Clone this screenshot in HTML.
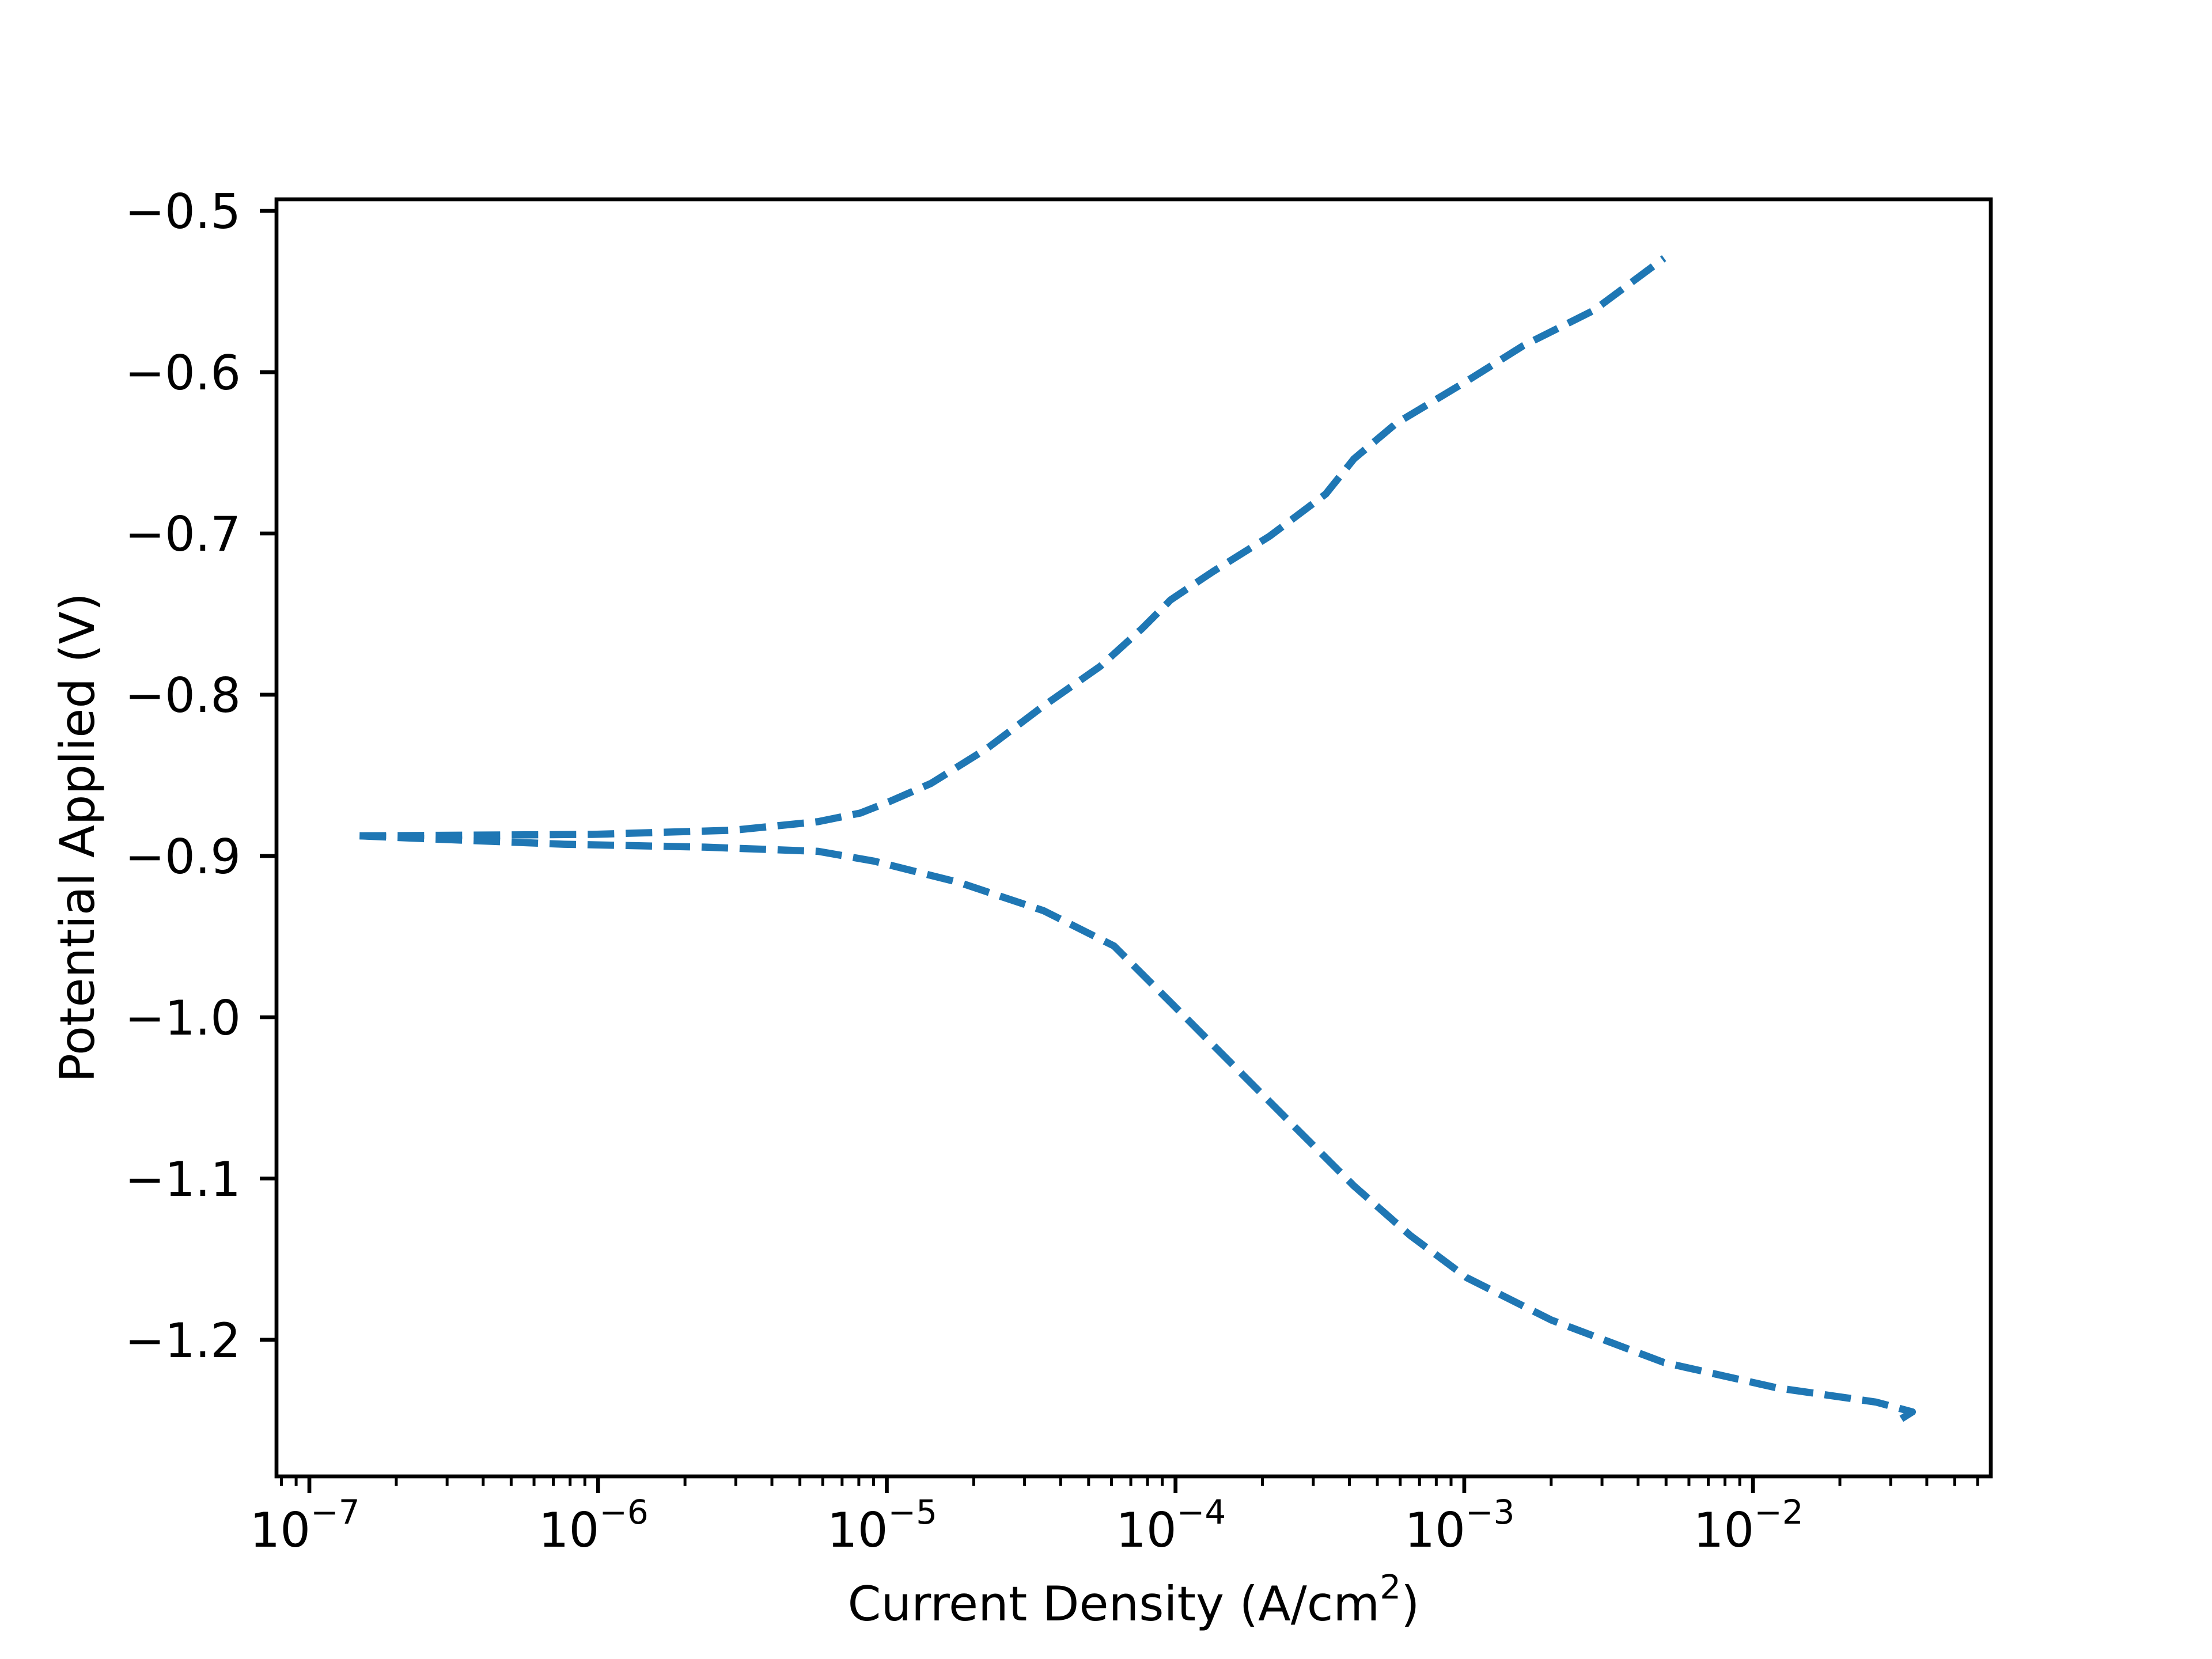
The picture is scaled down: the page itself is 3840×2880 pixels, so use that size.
<!DOCTYPE html>
<html><head><meta charset="utf-8"><style>
html,body{margin:0;padding:0;background:#fff;}
svg{display:block;}
text{font-family:"DejaVu Sans","Liberation Sans",sans-serif;fill:#000;}
</style></head><body>
<svg id="chart" width="3840" height="2880" viewBox="0 0 3840 2880" xmlns="http://www.w3.org/2000/svg">
<rect x="0" y="0" width="3840" height="2880" fill="#fff"/>
<g id="ticks"></g>
<g id="series"></g>
<rect x="480" y="346" width="2976" height="2217" fill="none" stroke="#000" stroke-width="6.7"/>
<text x="1968" y="2813" font-size="83" text-anchor="middle">Current Density (A/cm<tspan font-size="58" dy="-38">2</tspan><tspan dy="38">)</tspan></text>
<text transform="translate(163,1454) rotate(-90)" font-size="83" text-anchor="middle">Potential Applied (V)</text>
</svg>
<script>
// data (log10 current density, potential V)
const anodicLogI = [-6.826,-6.020,-5.531,-5.238,-5.092,-4.994,-4.847,-4.652,-4.457,-4.261,-4.115,-4.017,-3.871,-3.675,-3.480,-3.382,-3.236,-2.991,-2.796,-2.552,-2.308];
const anodicV    = [-0.8875,-0.8866,-0.884,-0.8787,-0.8734,-0.8665,-0.855,-0.8332,-0.8069,-0.7824,-0.7588,-0.7412,-0.7237,-0.7018,-0.6756,-0.6537,-0.6318,-0.6055,-0.5836,-0.5617,-0.5293];
const cathodicLogI = [-6.826,-6.606,-6.118,-5.629,-5.238,-5.043,-4.750,-4.457,-4.213,-4.017,-3.822,-3.578,-3.382,-3.187,-2.991,-2.698,-2.308,-1.917,-1.575,-1.448,-1.487];
const cathodicV    = [-0.8875,-0.8892,-0.8927,-0.8945,-0.8971,-0.9032,-0.9164,-0.9339,-0.9558,-0.9908,-1.0258,-1.0696,-1.1046,-1.1353,-1.1615,-1.1878,-1.2141,-1.2298,-1.2386,-1.2447,-1.2491];
const xTickExps = [-7,-6,-5,-4,-3,-2];
const yTickValues = [-0.5,-0.6,-0.7,-0.8,-0.9,-1.0,-1.1,-1.2];
const yTickLabels = ["\u22120.5","\u22120.6","\u22120.7","\u22120.8","\u22120.9","\u22121.0","\u22121.1","\u22121.2"];

const NS="http://www.w3.org/2000/svg";
const L=480,R=3456,T=346,B=2563;
const xMin=-7.1138,xMax=-1.1763,yMin=-1.2847,yMax=-0.4928;
function sx(lg){return L+(lg-xMin)/(xMax-xMin)*(R-L);}
function sy(v){return B-(v-yMin)/(yMax-yMin)*(B-T);}
function mk(tag,attrs,parent){const e=document.createElementNS(NS,tag);for(const k in attrs)e.setAttribute(k,attrs[k]);parent.appendChild(e);return e;}
const tg=document.getElementById('ticks');
// x major ticks
xTickExps.forEach(function(ex){
  const x=sx(ex);
  const t=mk('line',{x1:x,x2:x,y1:B,y2:B+29,stroke:'#000','stroke-width':6.7},tg);
  
  
  const tx=mk('text',{x:x-8,y:2685,'font-size':83,'text-anchor':'middle'},tg);
  
  
  tx.innerHTML='10<tspan font-size="58" dy="-40">\u2212'+(-ex)+'</tspan>';
});
// x minor ticks
for(let d=-8;d<=-1;d++){for(let m=2;m<=9;m++){const lg=d+Math.log10(m);if(lg<xMin||lg>xMax)continue;const x=sx(lg);
  const t=mk('line',{x1:x,x2:x,y1:B,y2:B+16.7,stroke:'#000','stroke-width':5},tg);
  
  
}}
// y ticks
yTickValues.forEach(function(v,i){
  const y=sy(v);
  const t=mk('line',{x1:L-29,x2:L,y1:y,y2:y,stroke:'#000','stroke-width':6.7},tg);
  
  
  const tx=mk('text',{x:418,y:y+30,'font-size':83,'text-anchor':'end'},tg);
  
  
  tx.textContent=yTickLabels[i];
});
// series
const sg=document.getElementById('series');
function path(xs,ys){let d='';for(let i=0;i<xs.length;i++){d+=(i?'L':'M')+sx(xs[i]).toFixed(1)+','+sy(ys[i]).toFixed(1);}return d;}
const a=mk('path',{d:path(anodicLogI,anodicV),fill:'none',stroke:'#1f77b4','stroke-width':12.5,'stroke-dasharray':'46 20','stroke-linejoin':'round'},sg);


const c=mk('path',{d:path(cathodicLogI,cathodicV),fill:'none',stroke:'#1f77b4','stroke-width':12.5,'stroke-dasharray':'46 20','stroke-linejoin':'round'},sg);


</script>
</body></html>
